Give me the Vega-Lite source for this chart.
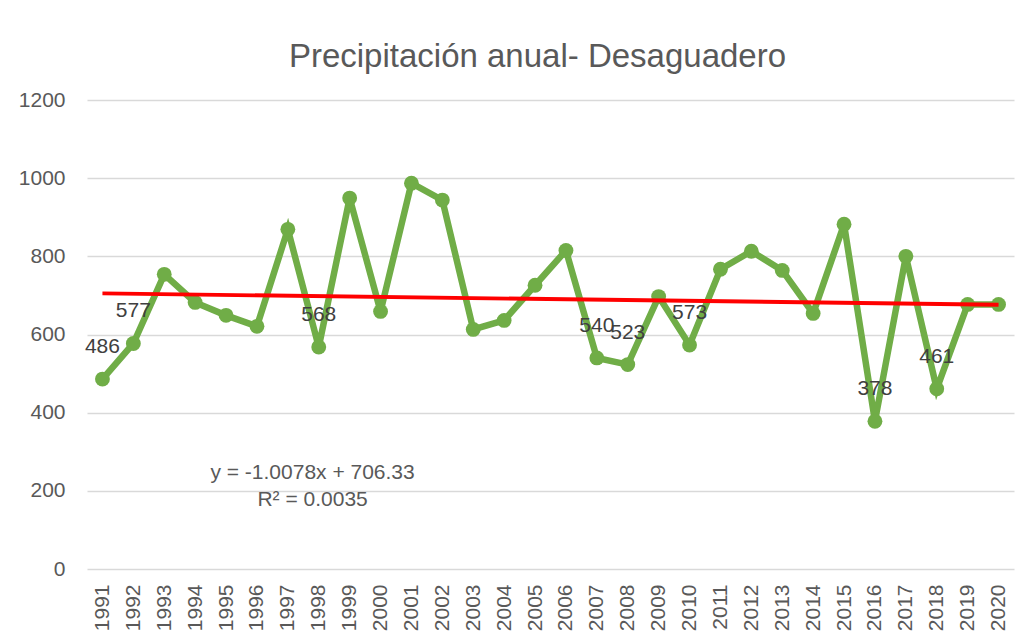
{
  "$schema": "https://vega.github.io/schema/vega-lite/v6.json",
  "autosize": "none",
  "width": 927,
  "height": 469,
  "padding": {"left": 87, "top": 100, "right": 19, "bottom": 74},
  "background": "white",
  "config": {
    "font": "Liberation Sans",
    "view": {"stroke": null},
    "axis": {"labelFont": "Liberation Sans", "labelColor": "#595959", "labelFontSize": 21}
  },
  "title": {
    "text": "Precipitación anual- Desaguadero",
    "fontSize": 33,
    "fontWeight": "normal",
    "color": "#595959",
    "font": "Liberation Sans",
    "anchor": "middle",
    "dx": -13,
    "offset": 15
  },
  "datasets": {
    "rain": [
      {"year": 1991, "value": 486},
      {"year": 1992, "value": 577},
      {"year": 1993, "value": 754},
      {"year": 1994, "value": 682},
      {"year": 1995, "value": 649},
      {"year": 1996, "value": 621},
      {"year": 1997, "value": 869},
      {"year": 1998, "value": 568},
      {"year": 1999, "value": 949},
      {"year": 2000, "value": 659},
      {"year": 2001, "value": 987},
      {"year": 2002, "value": 944},
      {"year": 2003, "value": 613},
      {"year": 2004, "value": 636},
      {"year": 2005, "value": 726},
      {"year": 2006, "value": 815},
      {"year": 2007, "value": 540},
      {"year": 2008, "value": 523},
      {"year": 2009, "value": 697},
      {"year": 2010, "value": 573},
      {"year": 2011, "value": 767},
      {"year": 2012, "value": 813},
      {"year": 2013, "value": 764},
      {"year": 2014, "value": 654},
      {"year": 2015, "value": 882},
      {"year": 2016, "value": 378},
      {"year": 2017, "value": 800},
      {"year": 2018, "value": 461},
      {"year": 2019, "value": 677},
      {"year": 2020, "value": 677}
    ],
    "trend": [
      {"year": 1991, "value": 705.32},
      {"year": 2020, "value": 676.10}
    ],
    "eq": [
      {"year": 1997.8, "value": 246, "t": "y = -1.0078x + 706.33"},
      {"year": 1997.8, "value": 177, "t": "R² = 0.0035"}
    ]
  },
  "encoding": {
    "x": {
      "field": "year",
      "type": "quantitative",
      "scale": {"domain": [1990.5, 2020.5], "nice": false, "zero": false},
      "axis": {
        "title": null,
        "values": [1991,1992,1993,1994,1995,1996,1997,1998,1999,2000,2001,2002,2003,2004,2005,2006,2007,2008,2009,2010,2011,2012,2013,2014,2015,2016,2017,2018,2019,2020],
        "format": "d",
        "labelAngle": -90,
        "labelAlign": "right",
        "labelBaseline": "middle",
        "labelPadding": 15,
        "grid": false,
        "ticks": false,
        "domain": false,
        "labelOverlap": false,
        "labelFlush": false
      }
    },
    "y": {
      "field": "value",
      "type": "quantitative",
      "scale": {"domain": [0, 1200], "nice": false},
      "axis": {
        "title": null,
        "values": [0, 200, 400, 600, 800, 1000, 1200],
        "format": "d",
        "grid": true,
        "gridColor": "#D9D9D9",
        "gridWidth": 1.5,
        "ticks": false,
        "domain": false,
        "labelPadding": 22
      }
    }
  },
  "layer": [
    {
      "data": {"name": "rain"},
      "mark": {"type": "line", "color": "#70AD47", "strokeWidth": 6.5, "point": {"filled": true, "size": 220, "color": "#70AD47", "opacity": 1}}
    },
    {
      "data": {"name": "trend"},
      "mark": {"type": "line", "color": "#FF0000", "strokeWidth": 3.8}
    },
    {
      "data": {"name": "rain"},
      "transform": [{"filter": "datum.value < 600"}],
      "mark": {"type": "text", "dy": -32, "fontSize": 21, "color": "#404040", "baseline": "middle", "align": "center"},
      "encoding": {"text": {"field": "value", "type": "quantitative", "format": "d"}}
    },
    {
      "data": {"name": "eq"},
      "mark": {"type": "text", "fontSize": 21, "color": "#595959", "baseline": "middle", "align": "center"},
      "encoding": {"text": {"field": "t", "type": "nominal"}}
    }
  ]
}
